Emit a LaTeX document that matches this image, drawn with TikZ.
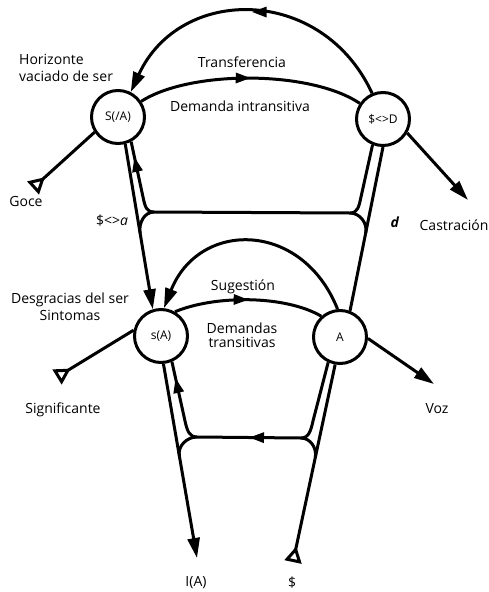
\documentclass[tikz,border=0pt]{standalone}
\usepackage{fontspec}
\setmainfont{Open Sans}
\usetikzlibrary{arrows.meta,decorations.markings,calc}
\begin{document}
\begin{tikzpicture}[x=1pt,y=-1pt,
  txt/.style={font=\fontsize{14}{17}\selectfont,inner sep=0pt,align=center},
  ln/.style={line width=3pt},
  circ/.style={circle,draw,line width=3pt,minimum size=53pt,inner sep=0pt,font=\fontsize{12}{14}\selectfont},
  endarr/.style={-{Triangle[length=20pt,width=12pt]}},
  tailtri/.style={{Triangle[open,reversed,length=16pt,width=17pt]}-},
  midarr/.style={postaction={decorate},decoration={markings,mark=at position #1 with {\arrow{Triangle[length=15pt,width=10pt]}}}},
  midarr/.default=0.5
]
\useasboundingbox (0,0) rectangle (488,592);

% circles
\node[circ] (SA) at (118,117) {S(/A)};
\node[circ] (SD) at (383,119) {\$<>D};
\node[circ] (sA) at (161,336) {s(A)};
\node[circ] (A)  at (340,337) {A};

% free ends and junctions
\coordinate (J1) at (154,212);
\coordinate (J2) at (350,213);
\coordinate (J3) at (197,437);
\coordinate (J4) at (301,438);
\coordinate (goce) at (33,188);
\coordinate (sig) at (57,377);
\coordinate (sbar) at (293,562);
\coordinate (IA) at (197,558);
\coordinate (voz) at (434,384);
\coordinate (cas) at (468,200);
\coordinate (M1) at ($(SA.-75)!0.54!(sA.107)$);
\coordinate (M2) at ($(SD.-90)!0.524!(A.69)$);
\coordinate (M3) at ($(sA.-85)!0.474!(IA)$);
\coordinate (M4) at ($(sbar)!0.528!(A.-100)$);

% upper level
\draw[ln,endarr,midarr=0.5] (SD.113) .. controls (322,-15) and (180,-15) .. (SA.63);
\draw[ln,midarr=0.5] (SA.34) .. controls (190,70) and (310,70) .. (SD.146);
\draw[ln,tailtri] (goce) -- (SA.213);
\draw[ln,endarr] (SD.-30) -- (cas);

% verticals
\draw[ln,endarr] (SA.-75) -- (sA.107);
\draw[ln,endarr] (sA.-85) -- (IA);
\draw[ln] (SD.-90) -- (A.69);
\draw[ln,tailtri] (sbar) -- (A.-100);

% upper bracket
\draw[ln] (J1) -- (J2);
\draw[ln,midarr=0.8] (J1) .. controls +(-8,0) and +(2,9) .. (143,197) -- (SA.-62);
\draw[ln] (J1) to[out=180,in=100] (M1);
\draw[ln] (J2) .. controls +(8,0) and +(-2,9) .. (361,197) -- (SD.-112);
\draw[ln] (J2) to[out=0,in=79] (M2);

% lower level
\draw[ln,endarr] (A.95) .. controls (302,220) and (199,220) .. (sA.84);
\draw[ln,midarr=0.5] (sA.60) .. controls (215,295) and (285,295) .. (A.132);
\draw[ln,endarr] (A.-3) -- (voz);
\draw[ln,tailtri] (sig) -- (sA.168);

% lower bracket
\draw[ln,midarr=0.5] (J4) -- (J3);
\draw[ln,midarr=0.8] (J3) .. controls +(-8,0) and +(2,9) .. (185,421) -- (sA.-67);
\draw[ln] (J3) to[out=180,in=100] (M3);
\draw[ln] (J4) .. controls +(8,0) and +(-2,9) .. (313,421) -- (A.-115);
\draw[ln] (J4) to[out=0,in=78] (M4);

% labels
\node[txt,align=left,anchor=west] (tHor) at (19,68) {Horizonte\\vaciado de ser};
\node[txt] (tTra) at (242,62) {Transferencia};
\node[txt] (tDem) at (240,106) {Demanda intransitiva};
\node[txt] (tGoce) at (26,201) {Goce};
\node[txt] (tSa) at (112,221) {\$<>\textit{a}};
\node[txt] (td) at (395,222) {\textbf{\textit{d}}};
\node[txt] (tCas) at (454,225) {Castración};
\node[txt] (tDes) at (70,307) {Desgracias del ser\\Sintomas};
\node[txt] (tSug) at (243,287) {Sugestión};
\node[txt,font=\fontsize{14}{14}\selectfont] (tDt) at (242,335) {Demandas\\transitivas};
\node[txt] (tSig) at (63,410) {Significante};
\node[txt] (tVoz) at (437,409) {Voz};
\node[txt] (tIA) at (196,583) {I(A)};
\node[txt] (tS) at (292,583) {\$};
\end{tikzpicture}
\end{document}
